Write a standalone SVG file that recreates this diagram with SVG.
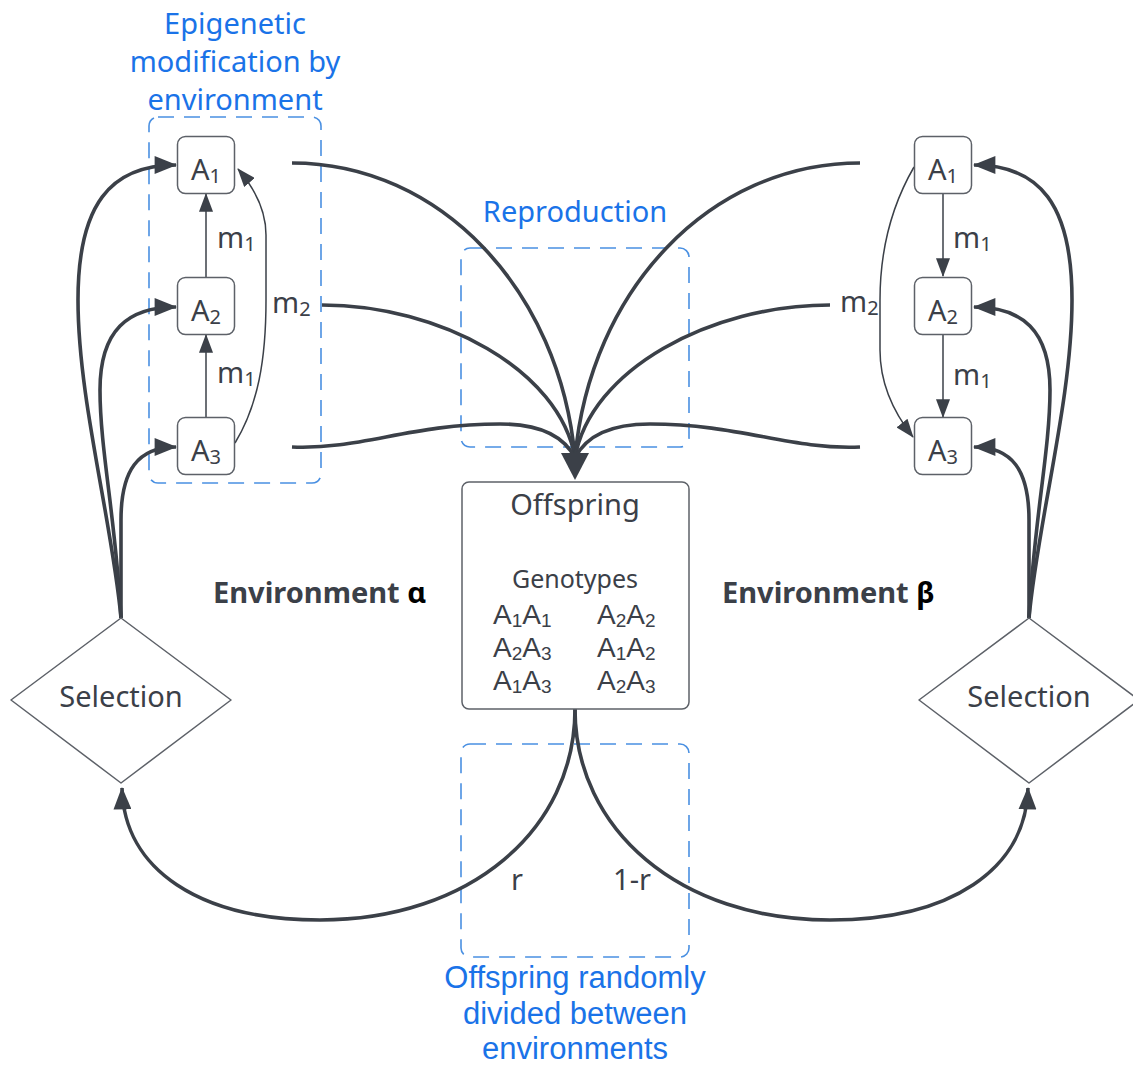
<svg xmlns="http://www.w3.org/2000/svg" width="1133" height="1067" viewBox="0 0 1133 1067">
<style>
  text { font-family: "Noto Sans", "Liberation Sans", sans-serif; fill: #3b4048; }
  .blue { fill: #1a73e8; font-size: 29px; }
  .blue2 { fill: #1a73e8; font-size: 31px; font-family: "Liberation Sans", Arial, sans-serif; }
  .lbl { font-size: 29px; }
  .gen { font-family: "Liberation Sans", Arial, sans-serif; font-size: 28px; }
  .sub { font-size: 20px; }
  .gen .sub { font-size: 19px; }
  .env { font-size: 29px; font-weight: bold; }
  .box { fill: #fff; stroke: #5d6168; stroke-width: 1.5; }
  .dash { fill: none; stroke: #4a90e2; stroke-width: 1.6; stroke-dasharray: 16 10; }
  .thick { fill: none; stroke: #3b4048; stroke-width: 3.6; }
  .thin { fill: none; stroke: #3b4048; stroke-width: 1.5; }
</style>
<defs>
  <marker id="arrowT" viewBox="0 0 20 16" refX="19" refY="8" markerWidth="23" markerHeight="18" markerUnits="userSpaceOnUse" orient="auto">
    <path d="M0,0 L20,8 L0,16 z" fill="#3b4048"/>
  </marker>
  <marker id="arrowS" viewBox="0 0 20 15" refX="19" refY="7.5" markerWidth="19" markerHeight="14" markerUnits="userSpaceOnUse" orient="auto">
    <path d="M0,0 L20,7.5 L0,15 z" fill="#3b4048"/>
  </marker>
</defs>

<!-- group frames -->
<g id="groups">
  <rect class="dash" x="149" y="117" width="172" height="366" rx="9"/>
  <rect class="dash" x="461" y="248" width="228" height="199" rx="9"/>
  <rect class="dash" x="461" y="744" width="228" height="213" rx="9"/>
  <text class="blue" text-anchor="middle"><tspan x="235" y="34">Epigenetic</tspan><tspan x="235" y="72">modification by</tspan><tspan x="235" y="110">environment</tspan></text>
  <text class="blue" text-anchor="middle" x="575" y="222">Reproduction</text>
  <text class="blue2" text-anchor="middle"><tspan x="575" y="988">Offspring randomly</tspan><tspan x="575" y="1024">divided between</tspan><tspan x="575" y="1059">environments</tspan></text>
</g>

<g id="connectors">
  <!-- left epigenetic -->
  <line class="thin" x1="206" y1="417" x2="206" y2="335" marker-end="url(#arrowS)"/>
  <line class="thin" x1="206" y1="277" x2="206" y2="194" marker-end="url(#arrowS)"/>
  <path class="thin" d="M235,443 C258,405 266,360 266,300 L266,235 C266,212 256,190 238,169" marker-end="url(#arrowS)"/>
  <!-- right epigenetic -->
  <line class="thin" x1="943" y1="193" x2="943" y2="276" marker-end="url(#arrowS)"/>
  <line class="thin" x1="943" y1="334" x2="943" y2="417" marker-end="url(#arrowS)"/>
  <path class="thin" d="M914,167 C892,205 880,250 880,300 L880,350 C880,385 894,413 913,437" marker-end="url(#arrowS)"/>
  <!-- left selection -->
  <path class="thick" d="M121,618 C112,520 78,400 78,300 C78,205 110,165 176,165" marker-end="url(#arrowT)"/>
  <path class="thick" d="M121,618 C116,520 100,450 100,390 C100,330 128,307 176,307" marker-end="url(#arrowT)"/>
  <path class="thick" d="M121,618 L121,520 C121,470 138,447 176,447" marker-end="url(#arrowT)"/>
  <!-- right selection -->
  <path class="thick" d="M1029,618 C1038,520 1072,400 1072,300 C1072,205 1040,165 974,165" marker-end="url(#arrowT)"/>
  <path class="thick" d="M1029,618 C1034,520 1050,450 1050,390 C1050,330 1022,307 974,307" marker-end="url(#arrowT)"/>
  <path class="thick" d="M1029,618 L1029,520 C1029,470 1012,447 974,447" marker-end="url(#arrowT)"/>
  <!-- reproduction -->
  <path class="thick" d="M292,163 C440,163 560,290 575,458"/>
  <path class="thick" d="M322,305 C440,305 560,370 575,458"/>
  <path class="thick" d="M292,447 C360,450 410,424 500,424 C545,424 566,440 575,458"/>
  <path class="thick" d="M860,163 C710,163 590,290 575,458"/>
  <path class="thick" d="M830,305 C710,305 590,370 575,458"/>
  <path class="thick" d="M860,447 C790,450 740,424 650,424 C605,424 584,440 575,458"/>
  <polygon points="561,453 589,453 575,480" fill="#3b4048"/>
  <!-- division -->
  <path class="thick" d="M575,709 C575,830 470,920 320,920 C200,920 124,870 122,788" marker-end="url(#arrowT)"/>
  <path class="thick" d="M575,709 C575,830 680,920 830,920 C950,920 1026,870 1028,788" marker-end="url(#arrowT)"/>
  <text class="lbl" text-anchor="middle" x="517" y="890">r</text>
  <text class="lbl" text-anchor="middle" x="632" y="890">1-r</text>
  <!-- labels -->
  <text class="lbl" x="217" y="248">m<tspan class="sub" dy="3">1</tspan></text>
  <text class="lbl" x="217" y="383">m<tspan class="sub" dy="3">1</tspan></text>
  <text class="lbl" x="272" y="313">m<tspan class="sub" dy="3">2</tspan></text>
  <text class="lbl" x="953" y="248">m<tspan class="sub" dy="3">1</tspan></text>
  <text class="lbl" x="953" y="385">m<tspan class="sub" dy="3">1</tspan></text>
  <text class="lbl" x="840" y="312">m<tspan class="sub" dy="3">2</tspan></text>
</g>

<g id="alpha-A1"><rect class="box" x="177.5" y="136.5" width="57" height="57" rx="8"/><text class="lbl" text-anchor="middle" x="206" y="180">A<tspan class="sub" dy="3">1</tspan></text></g>
<g id="alpha-A2"><rect class="box" x="177.5" y="277.5" width="57" height="57" rx="8"/><text class="lbl" text-anchor="middle" x="206" y="321">A<tspan class="sub" dy="3">2</tspan></text></g>
<g id="alpha-A3"><rect class="box" x="177.5" y="417.5" width="57" height="57" rx="8"/><text class="lbl" text-anchor="middle" x="206" y="461">A<tspan class="sub" dy="3">3</tspan></text></g>
<g id="beta-A1"><rect class="box" x="914.5" y="136.5" width="57" height="57" rx="8"/><text class="lbl" text-anchor="middle" x="943" y="180">A<tspan class="sub" dy="3">1</tspan></text></g>
<g id="beta-A2"><rect class="box" x="914.5" y="277.5" width="57" height="57" rx="8"/><text class="lbl" text-anchor="middle" x="943" y="321">A<tspan class="sub" dy="3">2</tspan></text></g>
<g id="beta-A3"><rect class="box" x="914.5" y="417.5" width="57" height="57" rx="8"/><text class="lbl" text-anchor="middle" x="943" y="461">A<tspan class="sub" dy="3">3</tspan></text></g>

<g id="offspring">
  <rect class="box" x="462" y="482" width="227" height="227" rx="7"/>
  <text class="lbl" text-anchor="middle" x="575" y="515">Offspring</text>
  <text text-anchor="middle" x="575" y="588" style="font-size:25px">Genotypes</text>
  <text class="gen" x="493" y="624">A<tspan class="sub" dy="3">1</tspan><tspan dy="-3">A</tspan><tspan class="sub" dy="3">1</tspan></text>
  <text class="gen" x="597" y="624">A<tspan class="sub" dy="3">2</tspan><tspan dy="-3">A</tspan><tspan class="sub" dy="3">2</tspan></text>
  <text class="gen" x="493" y="657">A<tspan class="sub" dy="3">2</tspan><tspan dy="-3">A</tspan><tspan class="sub" dy="3">3</tspan></text>
  <text class="gen" x="597" y="657">A<tspan class="sub" dy="3">1</tspan><tspan dy="-3">A</tspan><tspan class="sub" dy="3">2</tspan></text>
  <text class="gen" x="493" y="690">A<tspan class="sub" dy="3">1</tspan><tspan dy="-3">A</tspan><tspan class="sub" dy="3">3</tspan></text>
  <text class="gen" x="597" y="690">A<tspan class="sub" dy="3">2</tspan><tspan dy="-3">A</tspan><tspan class="sub" dy="3">3</tspan></text>
</g>

<g id="selection-alpha">
  <path class="box" d="M121,618 L231,700 L121,783 L11,700 Z" stroke-linejoin="round"/>
  <text class="lbl" text-anchor="middle" x="121" y="707">Selection</text>
</g>
<g id="selection-beta">
  <path class="box" d="M1029,618 L1139,700 L1029,783 L919,700 Z" stroke-linejoin="round"/>
  <text class="lbl" text-anchor="middle" x="1029" y="707">Selection</text>
</g>

<g id="env-alpha"><text class="env" x="213" y="603">Environment <tspan style="fill:#000">α</tspan></text></g>
<g id="env-beta"><text class="env" x="722" y="603">Environment <tspan style="fill:#000">β</tspan></text></g>
</svg>
